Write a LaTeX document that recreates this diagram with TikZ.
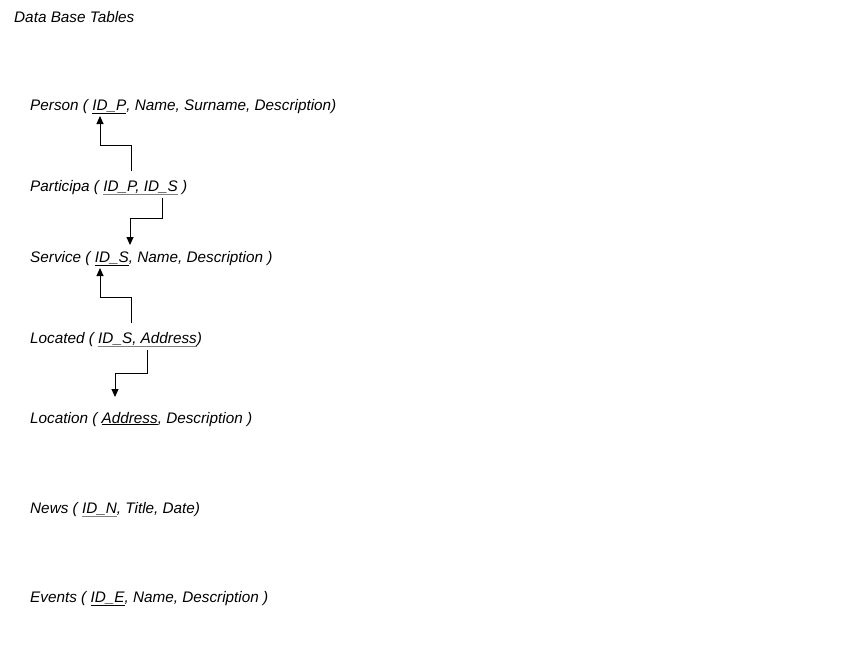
\documentclass[tikz,border=0pt]{standalone}
\usepackage{fontspec}
\setmainfont{Liberation Sans}
\usetikzlibrary{arrows.meta}
\newcommand\keyul[2]{{\color{#1}\underline{\textcolor{black}{#2}}}}
\begin{document}
\begin{tikzpicture}[x=1pt,y=-1pt,
  rowtext/.style={anchor=base west,inner sep=0pt,font=\fontsize{15.3}{18}\selectfont\itshape},
  fk/.style={line width=1pt,-{Triangle[width=7pt,length=8pt]}}]
\useasboundingbox (0,0) rectangle (856,662);
\node[rowtext] (title) at (14,22) {Data Base Tables};
\node[rowtext] (person) at (30,110) {Person ( \keyul{black}{ID\_P}, Name, Surname, Description)};
\node[rowtext] (participa) at (30,191) {Participa ( \keyul{gray}{ID\_P, ID\_S} )};
\node[rowtext] (service) at (30,262) {Service ( \keyul{black}{ID\_S}, Name, Description )};
\node[rowtext] (located) at (30,343) {Located ( \keyul{gray}{ID\_S, Address})};
\node[rowtext] (location) at (30,423) {Location ( \keyul{black}{Address}, Description )};
\node[rowtext] (news) at (30,513) {News ( \keyul{gray}{ID\_N}, Title, Date)};
\node[rowtext] (events) at (30,602) {Events ( \keyul{black}{ID\_E}, Name, Description )};
% connector end points
\coordinate (personfk) at (100,116);
\coordinate (participafrom) at (131,171);
\coordinate (participato) at (162,198);
\coordinate (servicefk) at (130,245);
\coordinate (servicepk) at (100,268);
\coordinate (locatedfrom) at (131,323);
\coordinate (locatedto) at (147,350);
\coordinate (locationfk) at (115,397);
\draw[fk] (participafrom) -- (131,145) -| (personfk);
\draw[fk] (participato) -- (162,218) -| (servicefk);
\draw[fk] (locatedfrom) -- (131,297) -| (servicepk);
\draw[fk] (locatedto) -- (147,373) -| (locationfk);
\end{tikzpicture}
\end{document}
